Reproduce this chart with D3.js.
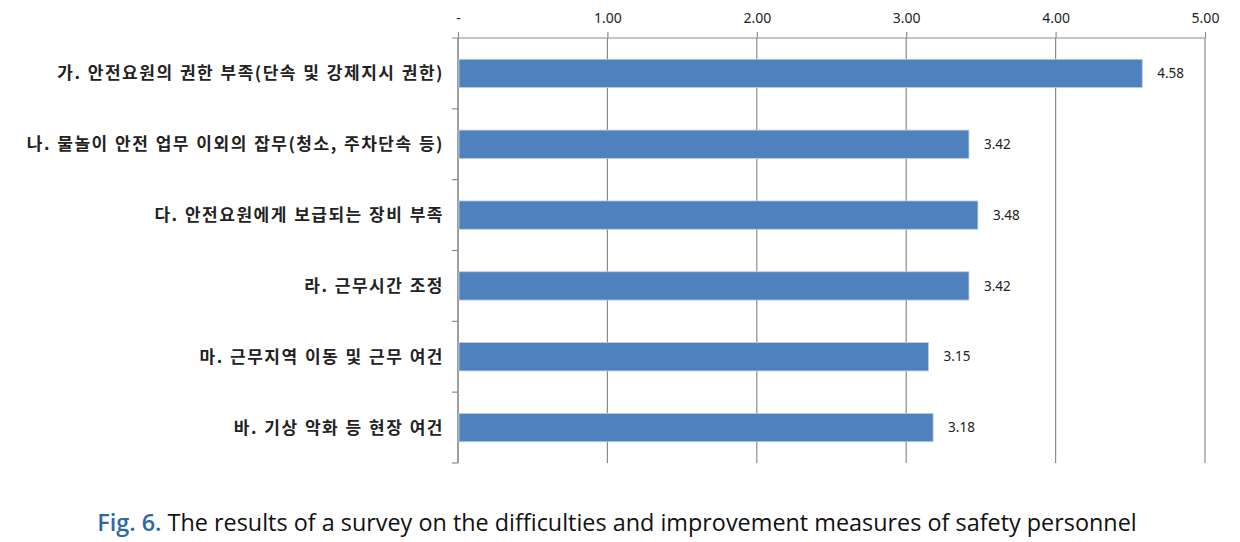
<!DOCTYPE html>
<html>
<head>
<meta charset="utf-8">
<script src="https://cdn.jsdelivr.net/npm/d3@7"></script>
<style>
  body { margin: 0; background: #fff; }
  svg { display: block; }
</style>
</head>
<body>
<script>
const categories = [
  '가. 안전요원의 권한 부족(단속 및 강제지시 권한)',
  '나. 물놀이 안전 업무 이외의 잡무(청소, 주차단속 등)',
  '다. 안전요원에게 보급되는 장비 부족',
  '라. 근무시간 조정',
  '마. 근무지역 이동 및 근무 여건',
  '바. 기상 악화 등 현장 여건'
];
const values = [4.58, 3.42, 3.48, 3.42, 3.15, 3.18];
const tickValues = [0, 1, 2, 3, 4, 5];
const tickLabels = ['-', '1.00', '2.00', '3.00', '4.00', '5.00'];

const width = 1240, height = 542;
const svg = d3.select('body').append('svg')
  .attr('width', width)
  .attr('height', height);

const plotLeft = 458, plotRight = 1205, plotTop = 38, plotBottom = 463;

const x = d3.scaleLinear().domain([0, 5]).range([plotLeft, plotRight]);
const y = d3.scaleBand().domain(categories).range([plotTop, plotBottom]).paddingInner(0.6).paddingOuter(0.3);
const bandEdge = d3.scaleLinear().domain([0, categories.length]).range([plotTop, plotBottom]);

// gridlines
svg.append('g')
  .selectAll('line')
  .data(tickValues)
  .enter().append('line')
  .attr('x1', d => x(d)).attr('x2', d => x(d))
  .attr('y1', plotTop).attr('y2', plotBottom)
  .attr('stroke', '#8c8c8c')
  .attr('stroke-width', 1.2);

// top axis
const xAxis = d3.axisTop(x)
  .tickValues(tickValues)
  .tickSize(6)
  .tickPadding(9)
  .tickFormat((d, i) => tickLabels[i]);

const gx = svg.append('g')
  .attr('transform', `translate(0,${plotTop})`)
  .call(xAxis);
gx.select('.domain').remove();
gx.selectAll('.tick line').attr('stroke', '#8c8c8c').attr('stroke-width', 1.2);
gx.selectAll('.tick text')
  .attr('fill', '#222')
  .style('font-family', '"Noto Sans", "DejaVu Sans", sans-serif')
  .style('font-size', '14px');
gx.append('line')
  .attr('x1', plotLeft - 6).attr('x2', plotRight)
  .attr('y1', 0).attr('y2', 0)
  .attr('stroke', '#8c8c8c')
  .attr('stroke-width', 1.2);

// left axis line with category separators
svg.append('line')
  .attr('x1', plotLeft).attr('x2', plotLeft)
  .attr('y1', plotTop).attr('y2', plotBottom)
  .attr('stroke', '#8c8c8c')
  .attr('stroke-width', 1.2);
svg.append('g')
  .selectAll('line')
  .data(d3.range(1, categories.length + 1))
  .enter().append('line')
  .attr('x1', plotLeft - 6).attr('x2', plotLeft)
  .attr('y1', d => bandEdge(d))
  .attr('y2', d => bandEdge(d))
  .attr('stroke', '#8c8c8c')
  .attr('stroke-width', 1.2);

// bars
svg.append('g')
  .selectAll('rect')
  .data(values)
  .enter().append('rect')
  .attr('x', x(0) + 1)
  .attr('y', (d, i) => y(categories[i]))
  .attr('width', d => x(d) - x(0) - 1)
  .attr('height', y.bandwidth())
  .attr('fill', '#4f81bd')
  .attr('stroke', '#bcd0e8')
  .attr('stroke-width', 0.8);

// value labels
svg.append('g')
  .selectAll('text')
  .data(values)
  .enter().append('text')
  .attr('x', d => x(d) + 15)
  .attr('y', (d, i) => y(categories[i]) + y.bandwidth() / 2)
  .attr('dy', '0.35em')
  .attr('fill', '#222')
  .style('font-family', '"Noto Sans", "DejaVu Sans", sans-serif')
  .style('font-size', '13.5px')
  .text(d => d.toFixed(2));

// category labels
svg.append('g')
  .selectAll('text')
  .data(categories)
  .enter().append('text')
  .attr('x', 444)
  .attr('y', d => y(d) + y.bandwidth() / 2)
  .attr('dy', '0.35em')
  .attr('text-anchor', 'end')
  .attr('fill', '#222')
  .style('font-family', '"Noto Sans CJK KR", sans-serif')
  .style('font-size', '17px')
  .style('font-weight', 'bold')
  .style('letter-spacing', '1.5px')
  .style('word-spacing', '1px')
  .text(d => d);

// caption
const caption = svg.append('text')
  .attr('x', 617)
  .attr('y', 531)
  .attr('text-anchor', 'middle')
  .style('font-family', '"Open Sans", "Noto Sans", sans-serif')
  .style('font-size', '23.4px')
  .attr('fill', '#111');
caption.append('tspan')
  .attr('fill', '#2e67a8')
  .style('font-weight', '600')
  .text('Fig. 6.');
caption.append('tspan')
  .text(' The results of a survey on the difficulties and improvement measures of safety personnel');
</script>
</body>
</html>
